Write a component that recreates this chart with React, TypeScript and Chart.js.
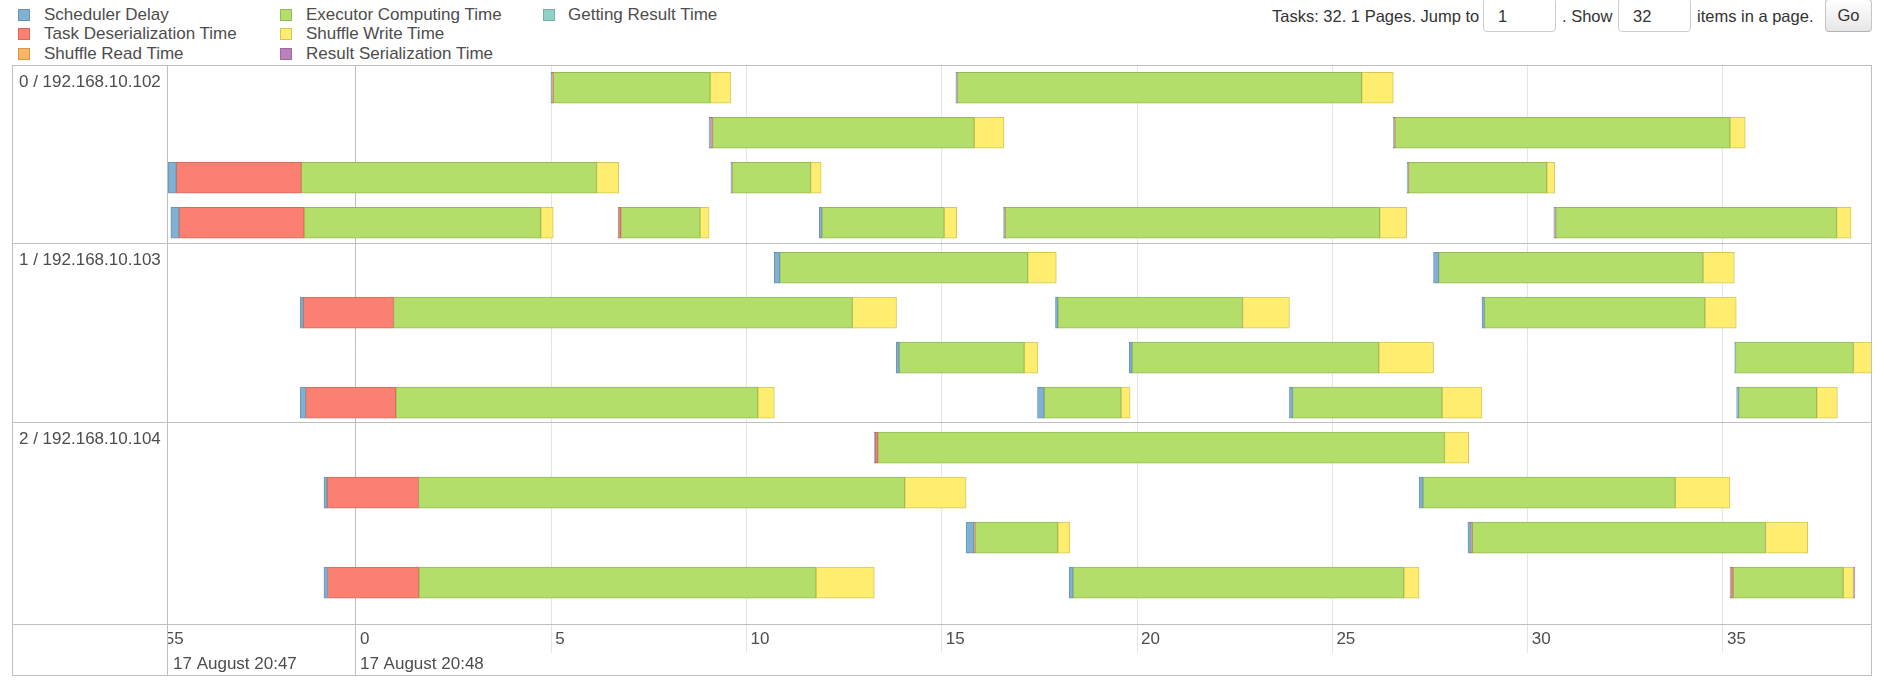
import React, { useEffect, useRef } from "react";
import { Chart, registerables } from "chart.js";

Chart.register(...registerables);

// ---------- categories / labels ----------
const segmentNames = [
  "Scheduler Delay",
  "Task Deserialization Time",
  "Shuffle Read Time",
  "Executor Computing Time",
  "Shuffle Write Time",
  "Result Serialization Time",
  "Getting Result Time",
];
const groupLabels = ["0 / 192.168.10.102", "1 / 192.168.10.103", "2 / 192.168.10.104"];
const tickSeconds = [-5, 0, 5, 10, 15, 20, 25, 30, 35];
const majorLabels = ["17 August 20:47", "17 August 20:48"];
const pagerText = ["Tasks: 32. 1 Pages. Jump to", "1", ". Show", "32", "items in a page.", "Go"];

// ---------- task data (seconds relative to 20:48:00) ----------
const taskRow = [0, 0, 1, 1, 2, 2, 2, 3, 3, 3, 3, 3, 4, 4, 5, 5, 5, 6, 6, 6, 7, 7, 7, 7, 8, 9, 9, 10, 10, 11, 11, 11];
const taskLaunch = [
  4.99, 15.36, 9.04, 26.56, -4.81, 9.6, 26.91, -4.74, 6.71, 11.86, 16.58, 30.67, 10.71, 27.59, -1.43, 17.91,
  28.83, 13.83, 19.8, 35.3, -1.43, 17.45, 23.9, 35.35, 13.27, -0.82, 27.22, 15.62, 28.47, -0.82, 18.26, 35.18,
];
const schedulerDelay = [
  0.02, 0.02, 0.05, 0.02, 0.21, 0.02, 0.03, 0.21, 0.01, 0.06, 0.02, 0.03, 0.14, 0.13, 0.08, 0.06,
  0.06, 0.08, 0.07, 0.02, 0.14, 0.17, 0.08, 0.05, 0.02, 0.08, 0.1, 0.2, 0.08, 0.09, 0.1, 0.02,
];
const deserializationTime = [
  0.04, 0.02, 0.04, 0.02, 3.2, 0.01, 0.01, 3.2, 0.06, 0.01, 0.02, 0.02, 0, 0, 2.31, 0,
  0, 0, 0, 0, 2.31, 0, 0, 0, 0.07, 2.34, 0, 0.03, 0.03, 2.34, 0, 0.06,
];
const shuffleReadTime = [
  0, 0, 0, 0, 0, 0, 0, 0, 0, 0, 0, 0, 0, 0, 0, 0,
  0, 0, 0, 0, 0, 0, 0, 0, 0, 0, 0, 0, 0, 0, 0, 0,
];
const computingTime = [
  4.02, 10.35, 6.7, 8.58, 7.56, 2.01, 3.54, 6.06, 2.03, 3.13, 9.59, 7.19, 6.35, 6.77, 11.75, 4.73,
  5.65, 3.2, 6.32, 3.02, 9.27, 1.97, 3.83, 2.0, 14.51, 12.45, 6.46, 2.12, 7.51, 10.17, 8.47, 2.82,
];
const shuffleWriteTime = [
  0.53, 0.81, 0.76, 0.39, 0.57, 0.27, 0.2, 0.32, 0.23, 0.32, 0.69, 0.37, 0.73, 0.8, 1.13, 1.2,
  0.8, 0.35, 1.4, 0.56, 0.42, 0.23, 1.02, 0.53, 0.62, 1.57, 1.4, 0.31, 1.08, 1.49, 0.39, 0.26,
];
const serializationTime = [
  0, 0, 0, 0, 0, 0, 0, 0, 0, 0, 0, 0, 0, 0, 0, 0,
  0, 0, 0, 0, 0, 0, 0, 0, 0, 0, 0, 0, 0, 0, 0, 0.03,
];
const gettingResultTime = [
  0, 0, 0, 0, 0, 0, 0, 0, 0, 0, 0, 0, 0, 0, 0, 0,
  0, 0, 0, 0, 0, 0, 0, 0, 0, 0, 0, 0, 0, 0, 0, 0,
];

// ---------- styles ----------
const FILL = ["#80B1D3", "#FB8072", "#FDB462", "#B3DE69", "#FFED6F", "#BC80BD", "#8DD3C7"];
const STROKE = ["#6B94B0", "#D26B5F", "#D39651", "#95B957", "#D5C65C", "#9D6B9E", "#75B0A6"];
const FONT = '"Liberation Sans", Arial, sans-serif';
const GROUP_BOUNDS = [3.459, 7.445];

function buildDatasets() {
  const series = [
    schedulerDelay,
    deserializationTime,
    shuffleReadTime,
    computingTime,
    shuffleWriteTime,
    serializationTime,
    gettingResultTime,
  ];
  const cursor = taskLaunch.slice();
  return series.map((s, k) => {
    const data: any[] = [];
    s.forEach((d, i) => {
      const a = cursor[i];
      const b = a + d;
      cursor[i] = b;
      if (d > 0) data.push({ x: [a, b], y: taskRow[i] });
    });
    return {
      label: segmentNames[k],
      data,
      backgroundColor: FILL[k],
      borderColor: STROKE[k],
      borderWidth: 1,
      borderSkipped: false,
      barThickness: 31,
      grouped: false,
      clip: 0,
    };
  });
}

const framePlugin = {
  id: "sparkFrame",
  afterDraw(chart: any) {
    const { ctx, width, height, chartArea: a } = chart;
    const xs = chart.scales.x;
    const ys = chart.scales.y;
    const al = (p: number) => Math.round(p - 0.5) + 0.5;
    ctx.save();
    ctx.lineWidth = 1;
    ctx.strokeStyle = "#bfbfbf";
    const hl = (y: number, x0: number, x1: number) => {
      ctx.beginPath();
      ctx.moveTo(x0, y);
      ctx.lineTo(x1, y);
      ctx.stroke();
    };
    const vl = (x: number, y0: number, y1: number) => {
      ctx.beginPath();
      ctx.moveTo(x, y0);
      ctx.lineTo(x, y1);
      ctx.stroke();
    };
    ctx.strokeRect(0.5, 0.5, width - 1, height - 1);
    vl(a.left - 0.5, 0, height);
    const sepY = GROUP_BOUNDS.map((b) => al(ys.getPixelForValue(b)));
    sepY.forEach((y) => hl(y, 0, width));
    hl(a.bottom + 0.5, 0, width);
    tickSeconds.forEach((v) => {
      if (v < xs.min || v > xs.max) return;
      const px = al(xs.getPixelForValue(v));
      const major = v % 60 === 0;
      ctx.strokeStyle = major ? "#bfbfbf" : "#e5e5e5";
      vl(px, a.bottom + 1, major ? height : a.bottom + 29);
    });

    ctx.font = "17px " + FONT;
    ctx.fillStyle = "#4d4d4d";
    ctx.textBaseline = "middle";
    ctx.textAlign = "left";

    ctx.save();
    ctx.beginPath();
    ctx.rect(a.left, a.bottom, width - a.left - 1, height - a.bottom);
    ctx.clip();
    tickSeconds.forEach((v) => {
      const lab = String(((v % 60) + 60) % 60);
      ctx.fillText(lab, xs.getPixelForValue(v) + 4, a.bottom + 15.5);
    });
    ctx.fillText(majorLabels[0], a.left + 5, a.bottom + 40);
    ctx.fillText(majorLabels[1], xs.getPixelForValue(0) + 4, a.bottom + 40);
    ctx.restore();

    const tops = [0, ...sepY];
    groupLabels.forEach((g, i) => ctx.fillText(g, 7, tops[i] + 17));
    ctx.restore();
  },
};

const legendCols = [
  [0, 1, 2],
  [3, 4, 5],
  [6],
];
const legendSquareX = [18, 280, 543];
const legendTextX = [44, 306, 568];
const legendRowY = [15.2, 34.4, 53.6];

export default function App() {
  const ref = useRef<HTMLCanvasElement | null>(null);
  useEffect(() => {
    if (!ref.current) return;
    const chart = new Chart(ref.current, {
      type: "bar",
      data: { datasets: buildDatasets() as any },
      options: {
        indexAxis: "y",
        animation: false,
        responsive: false,
        maintainAspectRatio: false,
        events: [],
        layout: { padding: { left: 156, right: 1, top: 0, bottom: 52 } },
        plugins: { legend: { display: false }, tooltip: { enabled: false } },
        scales: {
          x: {
            type: "linear",
            position: "bottom",
            min: -4.813,
            max: 38.79,
            afterBuildTicks: (s: any) => {
              s.ticks = tickSeconds.filter((v) => v >= s.min && v <= s.max).map((v) => ({ value: v }));
            },
            ticks: { display: false },
            grid: {
              color: (c: any) => (c.tick && c.tick.value % 60 === 0 ? "#bfbfbf" : "#e5e5e5"),
              drawTicks: false,
              lineWidth: 1,
            },
            border: { display: false },
          },
          y: {
            type: "linear",
            reverse: true,
            min: -0.506,
            max: 11.92,
            display: false,
            offset: false,
            grid: { display: false },
          },
        },
      } as any,
      plugins: [framePlugin],
    });
    return () => chart.destroy();
  }, []);

  const textStyle = (left: number, cy: number, size: number): React.CSSProperties => ({
    position: "absolute",
    left,
    top: cy - 10,
    lineHeight: "20px",
    fontSize: size,
    whiteSpace: "nowrap",
  });
  const box = (left: number, width: number): React.CSSProperties => ({
    position: "absolute",
    left,
    top: -2,
    width,
    height: 34,
    boxSizing: "border-box",
    border: "1px solid #ccc",
    borderRadius: 4,
    background: "#fff",
    paddingLeft: 14,
    lineHeight: "34px",
    fontSize: 16.5,
  });

  return (
    <div
      style={{
        position: "fixed",
        left: 0,
        top: 0,
        width: 1884,
        height: 683,
        background: "#fff",
        fontFamily: FONT,
        fontSize: 16,
        color: "#333",
        overflow: "hidden",
      }}
    >
      {legendCols.map((col, ci) =>
        col.map((k, ri) => (
          <React.Fragment key={k}>
            <div
              style={{
                position: "absolute",
                left: legendSquareX[ci],
                top: legendRowY[ri] - 6,
                width: 12,
                height: 12,
                boxSizing: "border-box",
                background: FILL[k],
                border: "1px solid " + STROKE[k],
              }}
            />
            <div style={{ ...textStyle(legendTextX[ci], legendRowY[ri], 17), color: "#4d4d4d" }}>{segmentNames[k]}</div>
          </React.Fragment>
        ))
      )}

      <div style={textStyle(1272, 16, 16.5)}>{pagerText[0]}</div>
      <div style={box(1483, 73)}>{pagerText[1]}</div>
      <div style={textStyle(1562, 16, 16.5)}>{pagerText[2]}</div>
      <div style={box(1618, 73)}>{pagerText[3]}</div>
      <div style={textStyle(1697, 16, 16.5)}>{pagerText[4]}</div>
      <div
        style={{
          position: "absolute",
          left: 1825,
          top: -1,
          width: 47,
          height: 33,
          boxSizing: "border-box",
          border: "1px solid #c5c5c5",
          borderBottomColor: "#b3b3b3",
          borderRadius: 4,
          background: "linear-gradient(#ffffff, #e6e6e6)",
          textAlign: "center",
          lineHeight: "31px",
          fontSize: 16.5,
        }}
      >
        {pagerText[5]}
      </div>

      <canvas ref={ref} width={1860} height={611} style={{ position: "absolute", left: 12, top: 65, width: 1860, height: 611 }} />
    </div>
  );
}
